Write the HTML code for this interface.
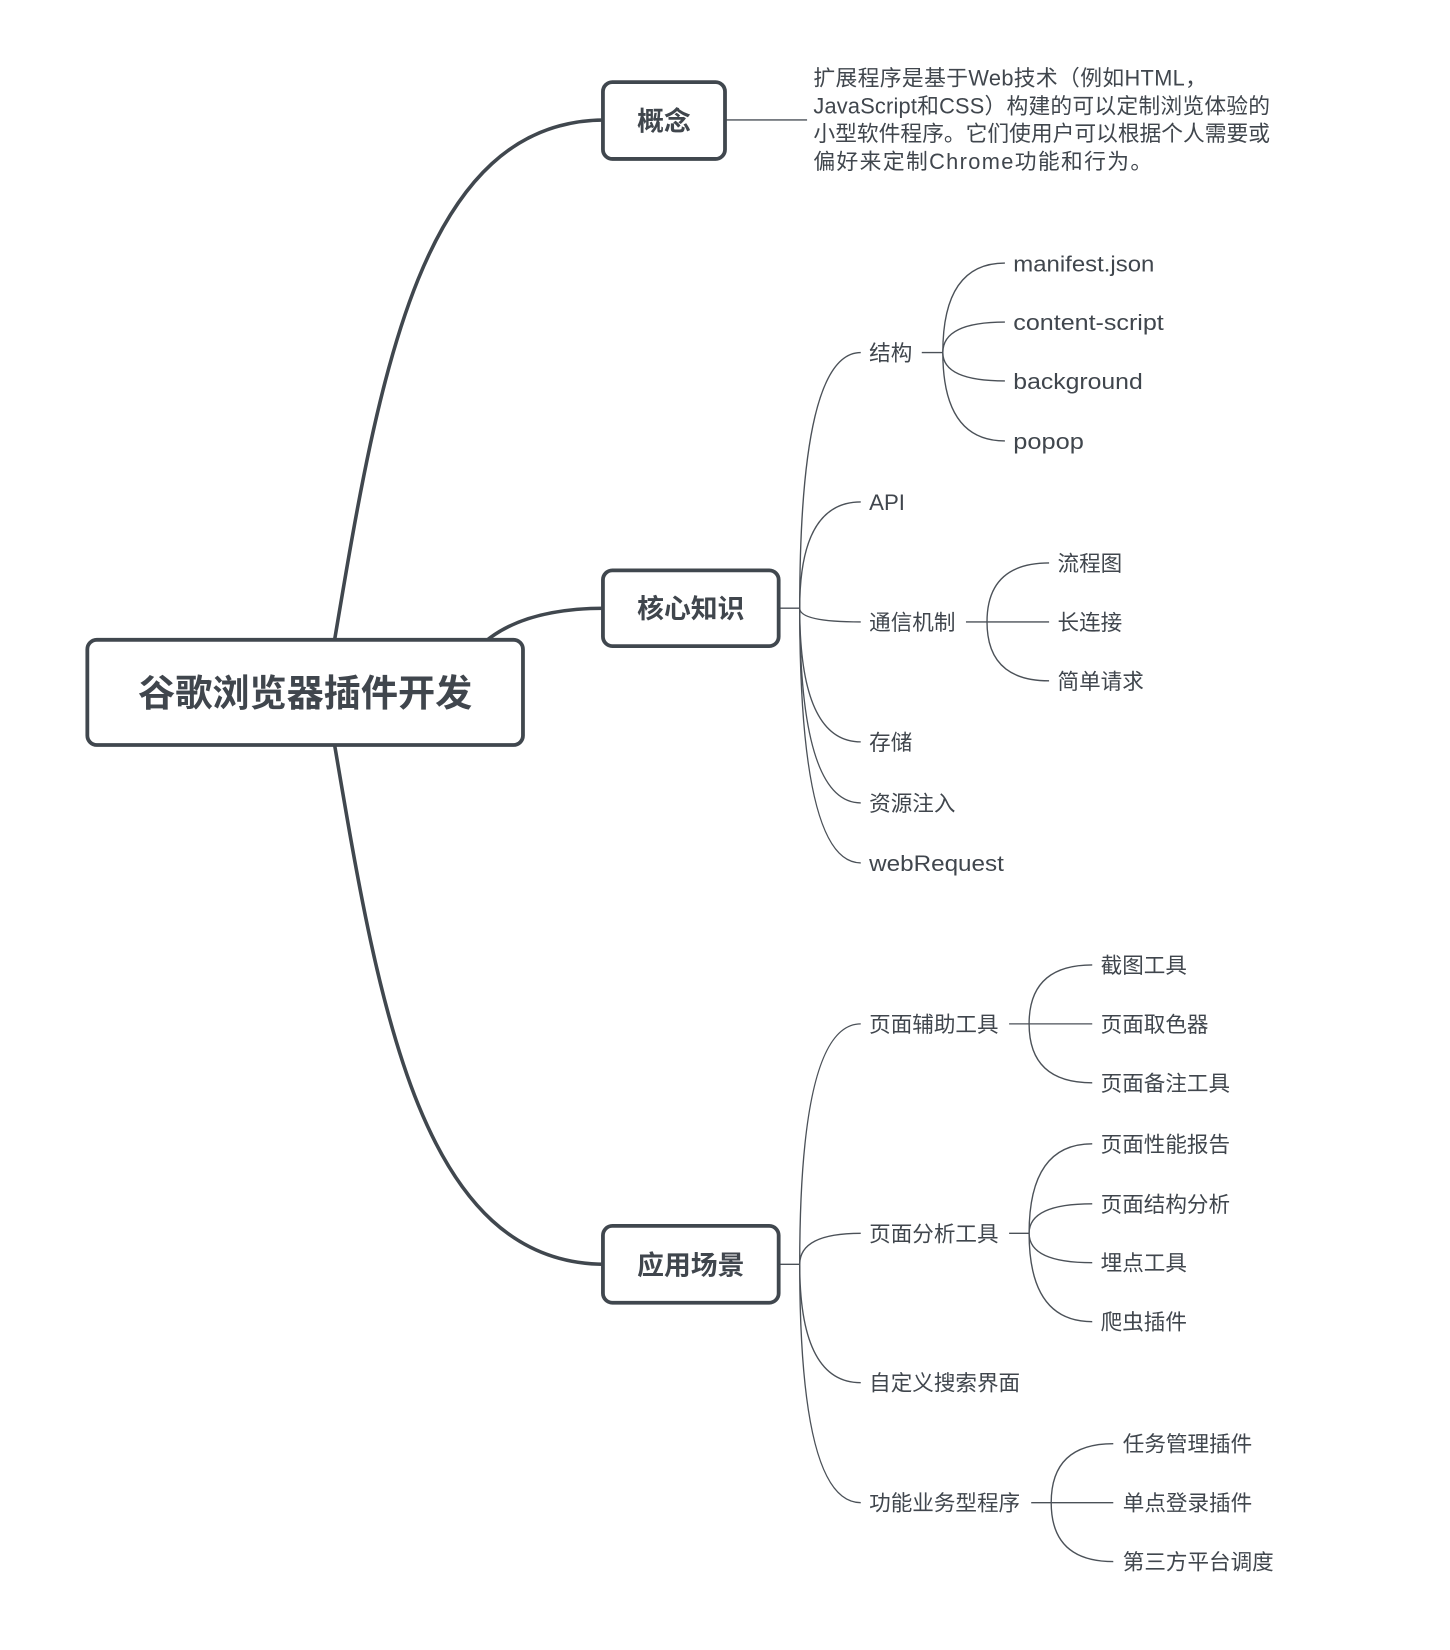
<!DOCTYPE html>
<html>
<head>
<meta charset="utf-8">
<style>
  html, body { margin: 0; padding: 0; background: #ffffff; }
  body { width: 1450px; height: 1650px; overflow: hidden; }
  svg { display: block; }
  text { font-family: "Liberation Sans", "Noto Sans CJK SC", sans-serif; fill: #40464d; }
  .box { fill: #ffffff; stroke: #40474e; stroke-width: 3.6; }
  .thick { fill: none; stroke: #40474e; stroke-width: 3.4; stroke-linecap: round; }
  .thin { fill: none; stroke: #4b5158; stroke-width: 1.3; }
  .t { font-size: 20.5px; }
  .lat { font-size: 21px; }
  .c { font-size: 20.7px; }
  .bx { font-size: 25.5px; font-weight: bold; text-anchor: middle; }
  .root { font-size: 35.3px; font-weight: bold; text-anchor: middle; }
</style>
</head>
<body>
<svg width="1450" height="1650" viewBox="0 0 1378 1568" xmlns="http://www.w3.org/2000/svg">
  <!-- main thick connectors -->
  <path class="thick" d="M318 608 C360 358, 400 114, 575 114"/>
  <path class="thick" d="M318 708 C360 956, 400 1201.5, 575 1201.5"/>
  <path class="thick" d="M462 609 Q500 578 575 578"/>

  <!-- concept connector -->
  <path class="thin" d="M689 114 H767"/>

  <!-- core trunk -->
  <path class="thin" d="M740 578 H760"/>
  <path class="thin" d="M760 578 Q760 335 818 335"/>
  <path class="thin" d="M760 578 Q760 477 818 477"/>
  <path class="thin" d="M760 578 Q760 591 818 591"/>
  <path class="thin" d="M760 578 Q760 705 818 705"/>
  <path class="thin" d="M760 578 Q760 763 818 763"/>
  <path class="thin" d="M760 578 Q760 820 818 820"/>

  <!-- 结构 subs -->
  <path class="thin" d="M876 335 H896"/>
  <path class="thin" d="M896 335 Q896 250 955 250"/>
  <path class="thin" d="M896 335 Q896 306 955 306"/>
  <path class="thin" d="M896 335 Q896 362 955 362"/>
  <path class="thin" d="M896 335 Q896 419 955 419"/>

  <!-- 通信机制 subs -->
  <path class="thin" d="M918 591 H938"/>
  <path class="thin" d="M938 591 Q938 535 997 535"/>
  <path class="thin" d="M938 591 H997"/>
  <path class="thin" d="M938 591 Q938 647 997 647"/>

  <!-- application trunk -->
  <path class="thin" d="M740 1201.5 H760"/>
  <path class="thin" d="M760 1201.5 Q760 973 818 973"/>
  <path class="thin" d="M760 1201.5 Q760 1172 818 1172"/>
  <path class="thin" d="M760 1201.5 Q760 1314 818 1314"/>
  <path class="thin" d="M760 1201.5 Q760 1428 818 1428"/>

  <!-- 页面辅助工具 subs -->
  <path class="thin" d="M959 973 H978"/>
  <path class="thin" d="M978 973 Q978 917 1038 917"/>
  <path class="thin" d="M978 973 H1038"/>
  <path class="thin" d="M978 973 Q978 1029 1038 1029"/>

  <!-- 页面分析工具 subs -->
  <path class="thin" d="M959 1172 H978"/>
  <path class="thin" d="M978 1172 Q978 1087 1038 1087"/>
  <path class="thin" d="M978 1172 Q978 1144 1038 1144"/>
  <path class="thin" d="M978 1172 Q978 1200 1038 1200"/>
  <path class="thin" d="M978 1172 Q978 1256 1038 1256"/>

  <!-- 功能业务型程序 subs -->
  <path class="thin" d="M980 1428 H999"/>
  <path class="thin" d="M999 1428 Q999 1372 1058 1372"/>
  <path class="thin" d="M999 1428 H1058"/>
  <path class="thin" d="M999 1428 Q999 1484 1058 1484"/>

  <!-- boxes -->
  <rect class="box" x="83" y="608" width="414" height="100" rx="9" ry="9"/>
  <rect class="box" x="573" y="78" width="116" height="73" rx="9" ry="9"/>
  <rect class="box" x="573" y="542" width="167" height="72" rx="9" ry="9"/>
  <rect class="box" x="573" y="1165" width="167" height="73" rx="9" ry="9"/>

  <!-- box labels -->
  <text class="root" x="290" y="671">谷歌浏览器插件开发</text>
  <text class="bx" x="631" y="124">概念</text>
  <text class="bx" x="656.5" y="587.5">核心知识</text>
  <text class="bx" x="656.5" y="1211">应用场景</text>

  <!-- concept description -->
  <text class="c" x="773" y="81.2" textLength="374" lengthAdjust="spacing">扩展程序是基于Web技术（例如HTML，</text>
  <text class="c" x="773" y="107.7" textLength="434" lengthAdjust="spacing">JavaScript和CSS）构建的可以定制浏览体验的</text>
  <text class="c" x="773" y="134.2" textLength="434" lengthAdjust="spacing">小型软件程序。它们使用户可以根据个人需要或</text>
  <text class="c" x="773" y="160.7" textLength="322" lengthAdjust="spacing">偏好来定制Chrome功能和行为。</text>

  <!-- core children -->
  <text class="t" x="826" y="342.6">结构</text>
  <text class="lat" x="826" y="484.8" textLength="34" lengthAdjust="spacingAndGlyphs">API</text>
  <text class="t" x="826" y="598.6">通信机制</text>
  <text class="t" x="826" y="712.6">存储</text>
  <text class="t" x="826" y="770.6">资源注入</text>
  <text class="lat" x="826" y="827.8" textLength="128" lengthAdjust="spacingAndGlyphs">webRequest</text>

  <!-- 结构 subs -->
  <text class="lat" x="963" y="257.8" textLength="134" lengthAdjust="spacingAndGlyphs">manifest.json</text>
  <text class="lat" x="963" y="313.8" textLength="143" lengthAdjust="spacingAndGlyphs">content-script</text>
  <text class="lat" x="963" y="369.8" textLength="123" lengthAdjust="spacingAndGlyphs">background</text>
  <text class="lat" x="963" y="426.8" textLength="67" lengthAdjust="spacingAndGlyphs">popop</text>

  <!-- 通信机制 subs -->
  <text class="t" x="1005" y="542.6">流程图</text>
  <text class="t" x="1005" y="598.6">长连接</text>
  <text class="t" x="1005" y="654.6">简单请求</text>

  <!-- application children -->
  <text class="t" x="826" y="980.6">页面辅助工具</text>
  <text class="t" x="826" y="1179.6">页面分析工具</text>
  <text class="t" x="826" y="1321.6">自定义搜索界面</text>
  <text class="t" x="826" y="1435.6">功能业务型程序</text>

  <!-- 页面辅助工具 subs -->
  <text class="t" x="1046" y="924.6">截图工具</text>
  <text class="t" x="1046" y="980.6">页面取色器</text>
  <text class="t" x="1046" y="1036.6">页面备注工具</text>

  <!-- 页面分析工具 subs -->
  <text class="t" x="1046" y="1094.6">页面性能报告</text>
  <text class="t" x="1046" y="1151.6">页面结构分析</text>
  <text class="t" x="1046" y="1207.6">埋点工具</text>
  <text class="t" x="1046" y="1263.6">爬虫插件</text>

  <!-- 功能业务型程序 subs -->
  <text class="t" x="1067" y="1379.6">任务管理插件</text>
  <text class="t" x="1067" y="1435.6">单点登录插件</text>
  <text class="t" x="1067" y="1491.6">第三方平台调度</text>
</svg>
</body>
</html>
